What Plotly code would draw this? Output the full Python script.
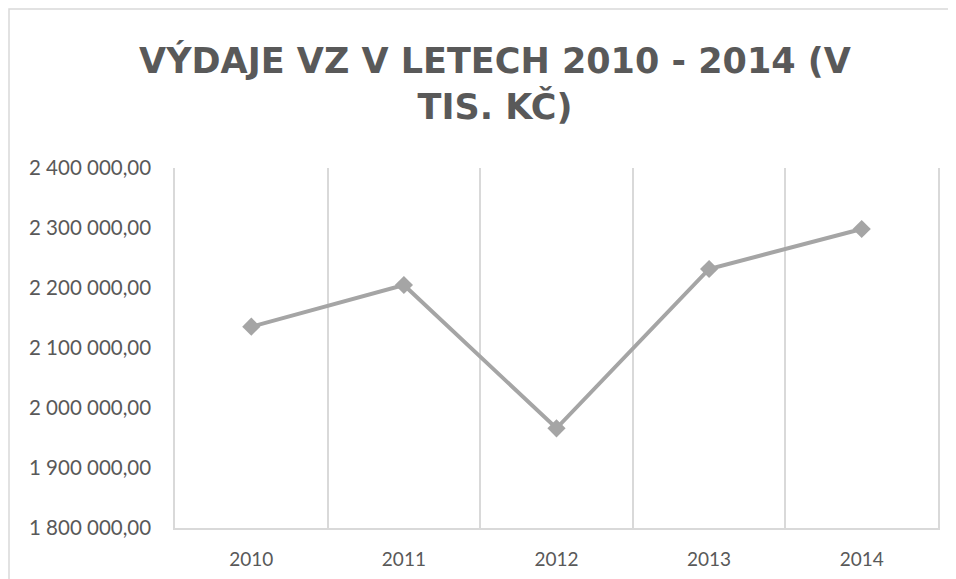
import plotly.graph_objects as go

years = ["2010", "2011", "2012", "2013", "2014"]
expenses = [2135500, 2205000, 1966200, 2231700, 2298300]
y_ticks = [1800000, 1900000, 2000000, 2100000, 2200000, 2300000, 2400000]

title_text = "VÝDAJE VZ V LETECH 2010 - 2014 (V<br>TIS. KČ)"

fig = go.Figure()
fig.add_trace(go.Scatter(
    x=years, y=expenses, mode="lines+markers",
    line=dict(color="#A5A5A5", width=4),
    marker=dict(symbol="diamond", size=14, color="#A5A5A5"),
    showlegend=False, hoverinfo="skip",
))

# page has an 8px body margin; figure coords = page coords - 8
W, H = 948, 571
L, T = 167, 160
R = W - 930
B = H - 520
pw = W - L - R
ph = H - T - B

fig.update_layout(
    width=W, height=H,
    margin=dict(l=L, r=R, t=T, b=B, autoexpand=False),
    paper_bgcolor="white", plot_bgcolor="white",
    separators=", ",
    title=dict(
        text=title_text, x=487 / W, xanchor="center", xref="container",
        y=1 - 65 / H, yanchor="middle", yref="container",
        font=dict(family="DejaVu Sans", size=35, color="#595959", weight="bold"),
    ),
    xaxis=dict(
        type="category", tickson="boundaries", showgrid=True,
        range=[-0.5, 4.5],
        gridcolor="#D9D9D9", gridwidth=1.5,
        showline=True, linecolor="#D9D9D9", linewidth=1.5,
        ticks="", tickfont=dict(family="Lato", size=19, color="#595959"),
        ticklabelstandoff=13,
    ),
    yaxis=dict(
        range=[1800000, 2400000], tickvals=y_ticks, tickformat=",.2f",
        showgrid=False, zeroline=False,
        showline=True, linecolor="#D9D9D9", linewidth=1.5, mirror=True,
        ticks="",
        tickfont=dict(family="Lato", size=20.5, color="#595959"),
        ticklabelstandoff=18,
    ),
    shapes=[dict(
        type="rect", xref="paper", yref="paper",
        x0=(1 - L) / pw, x1=1.5, y0=-1, y1=(H - B - 1) / ph,
        line=dict(color="#D9D9D9", width=1.5), fillcolor="rgba(0,0,0,0)",
        layer="below",
    )],
)

fig.write_html("out.html")
